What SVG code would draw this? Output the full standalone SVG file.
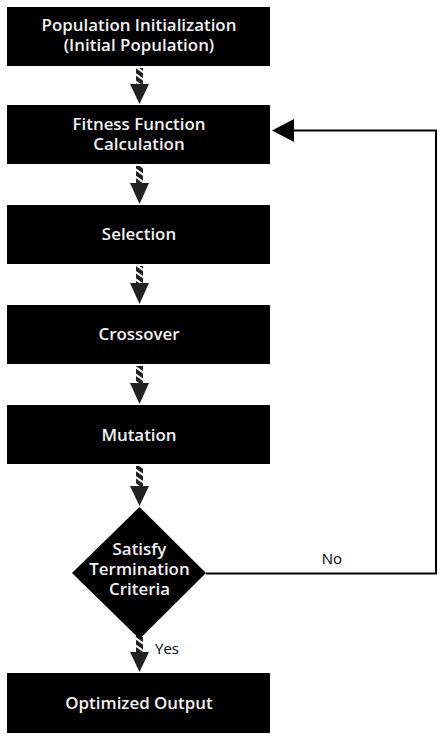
<svg xmlns="http://www.w3.org/2000/svg" width="443" height="738" viewBox="0 0 443 738">
<style>
.box{fill:#000}
.t{fill:#f2f2f2;font-family:"Open Sans","Noto Sans",sans-serif;font-weight:600;font-size:16.9px;text-anchor:middle}
.l{fill:#000;font-family:"Open Sans","Noto Sans",sans-serif;font-size:15px;text-anchor:middle}
.shaft{fill:url(#stripes)}
.head{fill:#222}
</style>
<defs>
<pattern id="stripes" patternUnits="userSpaceOnUse" width="6" height="6" patternTransform="rotate(35)">
<rect width="6" height="6" fill="#222"/>
<rect width="6" height="2" fill="#fff"/>
</pattern>
</defs>
<rect width="443" height="738" fill="#fff"/>
<g id="connectors">
<g id="c1"><rect class="shaft" x="136" y="68" width="7" height="17"/><polygon class="head" points="130,84 149,84 139.5,104"/></g>
<g id="c2"><rect class="shaft" x="136" y="166" width="7" height="18"/><polygon class="head" points="130,183 149,183 139.5,204"/></g>
<g id="c3"><rect class="shaft" x="136" y="266" width="7" height="18"/><polygon class="head" points="130,283 149,283 139.5,304"/></g>
<g id="c4"><rect class="shaft" x="136" y="366" width="7" height="18"/><polygon class="head" points="130,383 149,383 139.5,404"/></g>
<g id="c5"><rect class="shaft" x="136" y="466" width="7" height="22"/><polygon class="head" points="130,486 149,486 139.5,506"/></g>
<g id="c6"><rect class="shaft" x="136" y="636" width="7" height="17"/><polygon class="head" points="130,652 149,652 139.5,672"/></g>
<g id="c7"><polyline points="206,573.5 436,573.5 436,130.5 292,130.5" fill="none" stroke="#000" stroke-width="2"/><polygon points="272,130.5 294,119 294,142" fill="#000"/></g>
<text class="l" x="332" y="564">No</text>
<text class="l" x="167" y="654">Yes</text>
</g>
<g id="n1"><rect class="box" x="7" y="7" width="263" height="59"/><text class="t" x="139" y="31">Population Initialization</text><text class="t" x="139" y="51">(Initial Population)</text></g>
<g id="n2"><rect class="box" x="7" y="105" width="263" height="59"/><text class="t" x="139" y="130">Fitness Function</text><text class="t" x="139" y="150">Calculation</text></g>
<g id="n3"><rect class="box" x="7" y="205" width="263" height="59"/><text class="t" x="139" y="240">Selection</text></g>
<g id="n4"><rect class="box" x="7" y="305" width="263" height="59"/><text class="t" x="139" y="340">Crossover</text></g>
<g id="n5"><rect class="box" x="7" y="405" width="263" height="59"/><text class="t" x="139" y="441">Mutation</text></g>
<g id="n6"><polygon class="box" points="139.5,507 206,573 139.5,639 72,573"/><text class="t" x="139.5" y="555">Satisfy</text><text class="t" x="139.5" y="575">Termination</text><text class="t" x="139.5" y="595">Criteria</text></g>
<g id="n7"><rect class="box" x="7" y="673" width="263" height="60"/><text class="t" x="139" y="709">Optimized Output</text></g>
</svg>
